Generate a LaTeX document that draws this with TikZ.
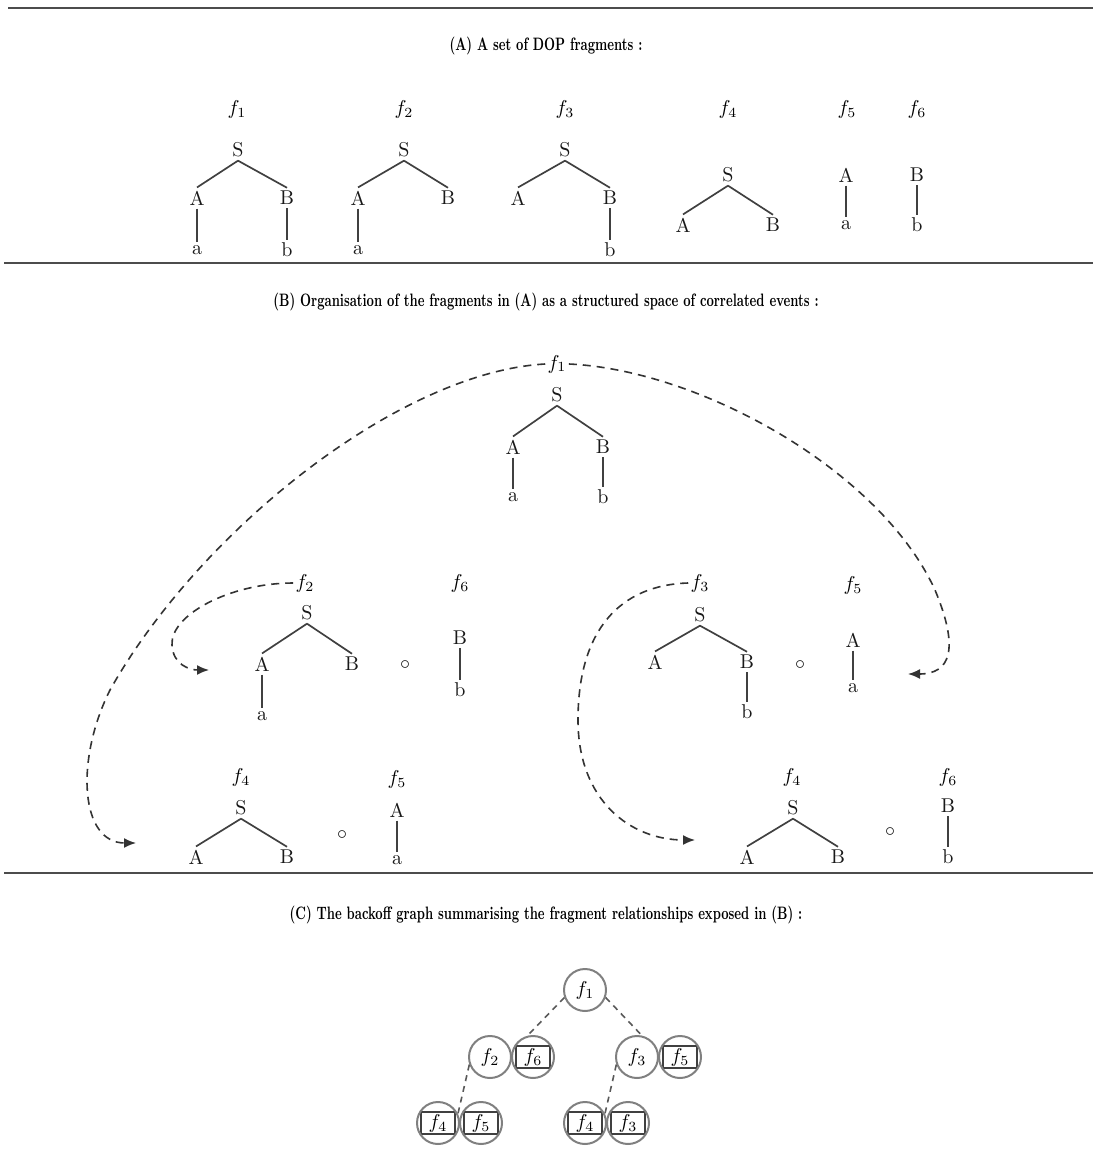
\documentclass[tikz,border=0pt]{standalone}
\usetikzlibrary{arrows.meta}
\newcommand\hdtext[1]{\scalebox{0.69}[1]{\bfseries\fontsize{9}{11}\selectfont #1}}
\begin{document}
\begin{tikzpicture}[x=0.5pt,y=-0.5pt,
  lab/.style={inner sep=1.5pt, font=\fontsize{10}{12}\selectfont, text=black!90},
  flab/.style={inner sep=1pt, font=\fontsize{10}{12}\selectfont},
  head/.style={inner sep=0pt, text=black},
  br/.style={draw=black!75, line width=0.85pt},
  sepline/.style={draw=black!70, line width=1.2pt},
  dl/.style={draw=black!80, line width=0.8pt, dash pattern=on 4pt off 3pt},
  dc/.style={draw=black!65, line width=0.8pt, dash pattern=on 3pt off 2.5pt},
  arr/.style={-{Latex[length=6pt,width=5pt]}},
  fc/.style={circle, draw=black!50, line width=1pt, minimum size=21pt, inner sep=0pt, font=\fontsize{10}{12}\selectfont},
  fb/.style={fc, path picture={\draw[black!75,line width=0.6pt] ([shift={(-8.5pt,-5.5pt)}]path picture bounding box.center) rectangle ([shift={(8.5pt,5.5pt)}]path picture bounding box.center);}},
]
\useasboundingbox (0,0) rectangle (1093,1176);

% separators
\draw[sepline] (8,8) -- (1093,8);
\draw[sepline] (4,263) -- (1093,263);
\draw[sepline] (4,873) -- (1093,873);

% ---------------- (A)
\node[head] (hA) at (546,46) {\hdtext{(A) A set of DOP fragments :}};

\node[flab] (Af1) at (237,110) {$f_1$};
\node[lab] (Af1S) at (238,150) {S};
\node[lab] (Af1A) at (197,198) {A};
\node[lab] (Af1B) at (287,198) {B};
\node[lab] (Af1a) at (197,250) {a};
\node[lab] (Af1b) at (287,250) {b};
\draw[br] (Af1S.south) -- (Af1A.north);
\draw[br] (Af1S.south) -- (Af1B.north);
\draw[br] (Af1A.south) -- (Af1a.north);
\draw[br] (Af1B.south) -- (Af1b.north);

\node[flab] (Af2) at (404,110) {$f_2$};
\node[lab] (Af2S) at (404,150) {S};
\node[lab] (Af2A) at (358,198) {A};
\node[lab] (Af2B) at (448,198) {B};
\node[lab] (Af2a) at (358,250) {a};
\draw[br] (Af2S.south) -- (Af2A.north);
\draw[br] (Af2S.south) -- (Af2B.north);
\draw[br] (Af2A.south) -- (Af2a.north);

\node[flab] (Af3) at (565,110) {$f_3$};
\node[lab] (Af3S) at (565,150) {S};
\node[lab] (Af3A) at (518,198) {A};
\node[lab] (Af3B) at (610,198) {B};
\node[lab] (Af3b) at (610,250) {b};
\draw[br] (Af3S.south) -- (Af3A.north);
\draw[br] (Af3S.south) -- (Af3B.north);
\draw[br] (Af3B.south) -- (Af3b.north);

\node[flab] (Af4) at (728,110) {$f_4$};
\node[lab] (Af4S) at (728,175) {S};
\node[lab] (Af4A) at (683,225) {A};
\node[lab] (Af4B) at (773,225) {B};
\draw[br] (Af4S.south) -- (Af4A.north);
\draw[br] (Af4S.south) -- (Af4B.north);

\node[flab] (Af5) at (847,110) {$f_5$};
\node[lab] (Af5A) at (846,175) {A};
\node[lab] (Af5a) at (846,225) {a};
\draw[br] (Af5A.south) -- (Af5a.north);

\node[flab] (Af6) at (917,110) {$f_6$};
\node[lab] (Af6B) at (917,175) {B};
\node[lab] (Af6b) at (917,225) {b};
\draw[br] (Af6B.south) -- (Af6b.north);

% ---------------- (B)
\node[head] (hB) at (546,302) {\hdtext{(B) Organisation of the fragments in (A) as a structured space of correlated events :}};

% top f1
\node[flab] (Bf1) at (557,364) {$f_1$};
\node[lab] (Bf1S) at (557,395) {S};
\node[lab] (Bf1A) at (513,447) {A};
\node[lab] (Bf1B) at (603,447) {B};
\node[lab] (Bf1a) at (513,497) {a};
\node[lab] (Bf1b) at (603,497) {b};
\draw[br] (Bf1S.south) -- (Bf1A.north);
\draw[br] (Bf1S.south) -- (Bf1B.north);
\draw[br] (Bf1A.south) -- (Bf1a.north);
\draw[br] (Bf1B.south) -- (Bf1b.north);

% f2 o f6
\node[flab] (Bf2) at (305,583) {$f_2$};
\node[lab] (Bf2S) at (307,613) {S};
\node[lab] (Bf2A) at (262,664) {A};
\node[lab] (Bf2B) at (352,664) {B};
\node[lab] (Bf2a) at (262,716) {a};
\draw[br] (Bf2S.south) -- (Bf2A.north);
\draw[br] (Bf2S.south) -- (Bf2B.north);
\draw[br] (Bf2A.south) -- (Bf2a.north);
\node[lab] (Bo1) at (405,665) {$\circ$};
\node[flab] (Bf6) at (460,583) {$f_6$};
\node[lab] (Bf6B) at (460,638) {B};
\node[lab] (Bf6b) at (460,690) {b};
\draw[br] (Bf6B.south) -- (Bf6b.north);

% f3 o f5
\node[flab] (Bf3) at (700,583) {$f_3$};
\node[lab] (Bf3S) at (700,615) {S};
\node[lab] (Bf3A) at (655,662) {A};
\node[lab] (Bf3B) at (747,662) {B};
\node[lab] (Bf3b) at (747,712) {b};
\draw[br] (Bf3S.south) -- (Bf3A.north);
\draw[br] (Bf3S.south) -- (Bf3B.north);
\draw[br] (Bf3B.south) -- (Bf3b.north);
\node[lab] (Bo2) at (800,665) {$\circ$};
\node[flab] (Bf5) at (853,585) {$f_5$};
\node[lab] (Bf5A) at (853,640) {A};
\node[lab] (Bf5a) at (853,688) {a};
\draw[br] (Bf5A.south) -- (Bf5a.north);

% f4 o f5 (bottom left)
\node[flab] (Bf4l) at (241,777) {$f_4$};
\node[lab] (Bf4lS) at (241,808) {S};
\node[lab] (Bf4lA) at (196,857) {A};
\node[lab] (Bf4lB) at (287,857) {B};
\draw[br] (Bf4lS.south) -- (Bf4lA.north);
\draw[br] (Bf4lS.south) -- (Bf4lB.north);
\node[lab] (Bo3) at (342,835) {$\circ$};
\node[flab] (Bf5l) at (397,779) {$f_5$};
\node[lab] (Bf5lA) at (397,810) {A};
\node[lab] (Bf5la) at (397,860) {a};
\draw[br] (Bf5lA.south) -- (Bf5la.north);

% f4 o f6 (bottom right)
\node[flab] (Bf4r) at (792,777) {$f_4$};
\node[lab] (Bf4rS) at (793,808) {S};
\node[lab] (Bf4rA) at (747,857) {A};
\node[lab] (Bf4rB) at (838,857) {B};
\draw[br] (Bf4rS.south) -- (Bf4rA.north);
\draw[br] (Bf4rS.south) -- (Bf4rB.north);
\node[lab] (Bo4) at (890,832) {$\circ$};
\node[flab] (Bf6r) at (948,777) {$f_6$};
\node[lab] (Bf6rB) at (948,806) {B};
\node[lab] (Bf6rb) at (948,857) {b};
\draw[br] (Bf6rB.south) -- (Bf6rb.north);

% arrow targets
\coordinate (t1) at (136,843);
\coordinate (t2) at (908,674);
\coordinate (t3) at (209,670);
\coordinate (t4) at (695,840);

\draw[dl,arr] (Bf1.west) .. controls (400,372) and (200,530) .. (110,690)
   .. controls (75,760) and (80,843) .. (t1);
\draw[dl,arr] (Bf1.east) .. controls (700,370) and (880,470) .. (935,590)
   .. controls (960,650) and (950,674) .. (t2);
\draw[dl,arr] (Bf2.west) .. controls (230,583) and (170,615) .. (172,645)
   .. controls (173,665) and (190,670) .. (t3);
\draw[dl,arr] (Bf3.west) .. controls (620,585) and (578,630) .. (578,720)
   .. controls (578,800) and (630,840) .. (t4);

% ---------------- (C)
\node[head] (hC) at (546,915) {\hdtext{(C) The backoff graph summarising the fragment relationships exposed in (B) :}};

\node[fc] (c1) at (585,990) {$f_1$};
\node[fc] (c2) at (490,1057) {$f_2$};
\node[fb] (c6a) at (533,1057) {$f_6$};
\node[fc] (c3) at (637,1057) {$f_3$};
\node[fb] (c5a) at (680,1057) {$f_5$};
\node[fb] (c4a) at (438,1123) {$f_4$};
\node[fb] (c5b) at (481,1123) {$f_5$};
\node[fb] (c4b) at (585,1123) {$f_4$};
\node[fb] (c3b) at (628,1123) {$f_3$};

\draw[dc] (c1.200) -- (c6a.105);
\draw[dc] (c1.340) -- (c3.77);
\draw[dc] (c2.200) -- (c4a.25);
\draw[dc] (c3.200) -- (c4b.25);
\end{tikzpicture}
\end{document}
